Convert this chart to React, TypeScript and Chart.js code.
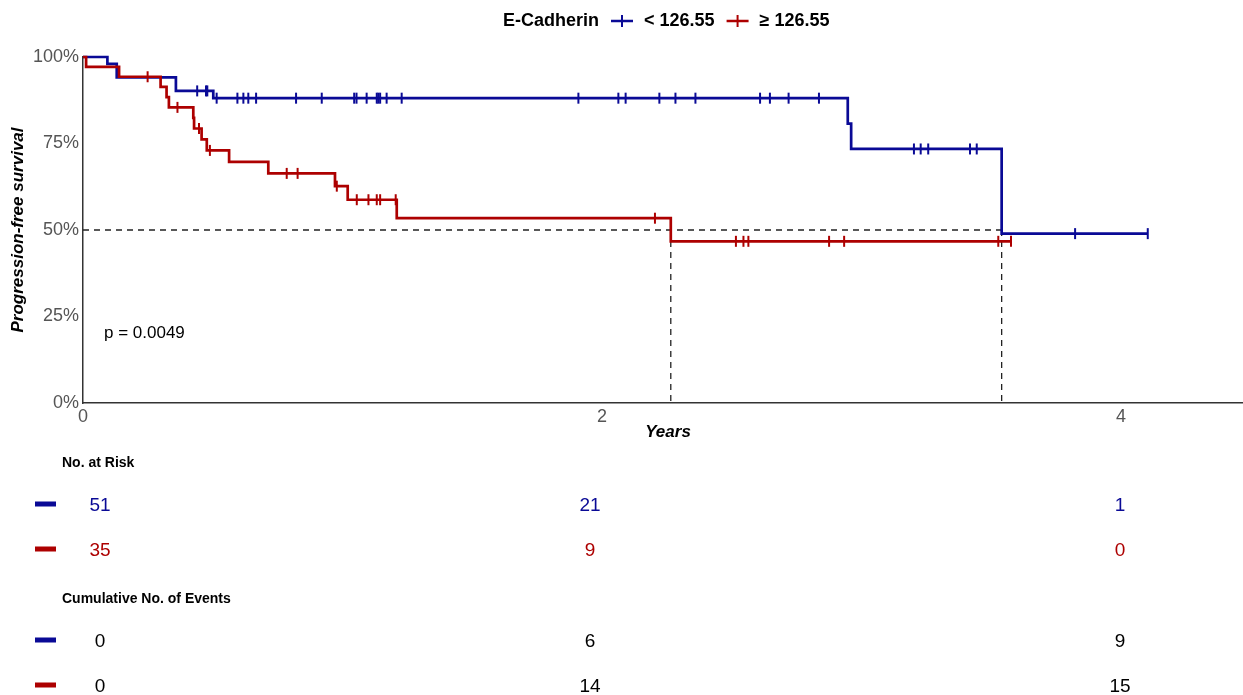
import React, { useEffect, useRef } from 'react';
import { Chart, registerables } from 'chart.js';

Chart.register(...registerables);

// ---------- data ----------
const legendTitle = 'E-Cadherin';
const groupLabels = ['< 126.55', '≥ 126.55'];
const groupColors = ['#0a0a96', '#ad0000'];

// Kaplan-Meier steps (time in years, survival in %)
const lowTimes = [0, 0.094, 0.13, 0.358, 0.502, 2.947, 2.96, 3.54, 4.103];
const lowSurv = [100, 98.04, 94.12, 90.2, 88.1, 80.76, 73.42, 48.95, 48.95];
const lowCensor = [
  0.44, 0.474, 0.479, 0.515, 0.595, 0.618, 0.637, 0.667, 0.821, 0.92, 1.045, 1.054,
  1.093, 1.132, 1.138, 1.145, 1.17, 1.228, 1.909, 2.063, 2.091, 2.221, 2.283, 2.36,
  2.609, 2.647, 2.719, 2.836, 3.202, 3.228, 3.257, 3.418, 3.444, 3.823, 4.103,
];

const highTimes = [0, 0.012, 0.139, 0.299, 0.322, 0.331, 0.425, 0.428, 0.457, 0.477, 0.563, 0.714, 0.971, 1.02, 1.209, 2.265, 3.576];
const highSurv = [100, 97.14, 94.29, 91.34, 88.39, 85.44, 82.39, 79.34, 76.17, 73.0, 69.68, 66.36, 62.67, 58.75, 53.41, 46.73, 46.73];
const highCensor = [
  0.249, 0.364, 0.447, 0.489, 0.785, 0.827, 0.978, 1.055, 1.1, 1.132, 1.145, 1.205,
  2.204, 2.516, 2.545, 2.564, 2.875, 2.933, 3.527, 3.576,
];

const medianTimes = [2.265, 3.54];
const medianLevel = 50;
const pValueText = 'p = 0.0049';

const xTickValues = [0, 2, 4];
const yTickValues = [0, 25, 50, 75, 100];

const tableTimes = [0, 2, 4];
const riskLow = [51, 21, 1];
const riskHigh = [35, 9, 0];
const eventsLow = [0, 6, 9];
const eventsHigh = [0, 14, 15];

// ---------- helpers ----------
const FONT = '"Liberation Sans", Arial, Helvetica, sans-serif';

function stepAt(times: number[], surv: number[], t: number): number {
  let v = surv[0];
  for (let i = 0; i < times.length; i++) if (times[i] <= t) v = surv[i];
  return v;
}

const toPts = (times: number[], surv: number[]) => times.map((t, i) => ({ x: t, y: surv[i] }));
const censorPts = (c: number[], times: number[], surv: number[]) =>
  c.map((t) => ({ x: t, y: stepAt(times, surv, t) }));

const overlayPlugin = {
  id: 'overlay',
  afterDraw(chart: any) {
    const ctx: CanvasRenderingContext2D = chart.ctx;
    const area = chart.chartArea;
    ctx.save();

    // legend
    ctx.textBaseline = 'middle';
    ctx.textAlign = 'left';
    ctx.fillStyle = '#000';
    ctx.font = `bold 18px ${FONT}`;
    let lx = 503;
    const ly = 21;
    ctx.fillText(legendTitle, lx, ly);
    lx += ctx.measureText(legendTitle).width + 12;
    groupLabels.forEach((lab, i) => {
      ctx.strokeStyle = groupColors[i];
      ctx.lineWidth = 2.5;
      ctx.beginPath();
      ctx.moveTo(lx, ly);
      ctx.lineTo(lx + 22, ly);
      ctx.stroke();
      ctx.lineWidth = 2;
      ctx.beginPath();
      ctx.moveTo(lx + 11, ly - 6);
      ctx.lineTo(lx + 11, ly + 6);
      ctx.stroke();
      lx += 22 + 11;
      ctx.fillStyle = '#000';
      ctx.fillText(lab, lx, ly);
      lx += ctx.measureText(lab).width + 12;
    });

    // p-value
    ctx.font = `17px ${FONT}`;
    ctx.fillText(pValueText, 104, 333);

    // axis titles
    ctx.font = `italic bold 17px ${FONT}`;
    ctx.textAlign = 'center';
    ctx.fillText('Years', (area.left + area.right) / 2 + 5, 432);
    ctx.save();
    ctx.translate(18, (area.top + area.bottom) / 2);
    ctx.rotate(-Math.PI / 2);
    ctx.fillText('Progression-free survival', 0, 0);
    ctx.restore();

    // tables
    const colX = [100, 590, 1120];
    const drawHeader = (txt: string, y: number) => {
      ctx.font = `bold 14px ${FONT}`;
      ctx.textAlign = 'left';
      ctx.fillStyle = '#000';
      ctx.fillText(txt, 62, y);
    };
    const drawRow = (vals: number[], y: number, barColor: string, textColor: string) => {
      ctx.fillStyle = barColor;
      ctx.fillRect(35, y - 4.5, 21, 5);
      ctx.font = `19px ${FONT}`;
      ctx.textAlign = 'center';
      ctx.fillStyle = textColor;
      vals.forEach((v, i) => {
        if (i < tableTimes.length) ctx.fillText(String(v), colX[i], y);
      });
    };
    drawHeader('No. at Risk', 463);
    drawRow(riskLow, 506, groupColors[0], groupColors[0]);
    drawRow(riskHigh, 551, groupColors[1], groupColors[1]);
    drawHeader('Cumulative No. of Events', 599);
    drawRow(eventsLow, 642, groupColors[0], '#000');
    drawRow(eventsHigh, 687, groupColors[1], '#000');

    ctx.restore();
  },
};

export default function App() {
  const ref = useRef<HTMLCanvasElement | null>(null);

  useEffect(() => {
    document.body.style.margin = '0';
    const canvas = ref.current;
    if (!canvas) return;

    const dashed = {
      borderColor: '#222',
      borderWidth: 1.3,
      borderDash: [6, 5],
      pointRadius: 0,
      fill: false,
      clip: false as any,
    };

    const chart = new Chart(canvas, {
      type: 'line',
      data: {
        datasets: [
          {
            data: censorPts(highCensor, highTimes, highSurv),
            showLine: false,
            pointStyle: 'line',
            rotation: 90,
            pointRadius: 5.5,
            pointBorderWidth: 2,
            pointBorderColor: groupColors[1],
            pointBackgroundColor: groupColors[1],
            clip: false as any,
          } as any,
          {
            data: censorPts(lowCensor, lowTimes, lowSurv),
            showLine: false,
            pointStyle: 'line',
            rotation: 90,
            pointRadius: 5.5,
            pointBorderWidth: 2,
            pointBorderColor: groupColors[0],
            pointBackgroundColor: groupColors[0],
            clip: false as any,
          } as any,
          {
            data: toPts(highTimes, highSurv),
            stepped: 'before',
            borderColor: groupColors[1],
            borderWidth: 2.7,
            pointRadius: 0,
            fill: false,
            clip: false as any,
          } as any,
          {
            data: toPts(lowTimes, lowSurv),
            stepped: 'before',
            borderColor: groupColors[0],
            borderWidth: 2.7,
            pointRadius: 0,
            fill: false,
            clip: false as any,
          } as any,
          { ...dashed, data: [{ x: 0, y: medianLevel }, { x: Math.max(...medianTimes), y: medianLevel }] } as any,
          ...medianTimes.map(
            (t) => ({ ...dashed, data: [{ x: t, y: medianLevel }, { x: t, y: 0 }] } as any)
          ),
        ],
      },
      options: {
        animation: false,
        responsive: false,
        maintainAspectRatio: false,
        events: [],
        layout: { autoPadding: false, padding: { top: 57, bottom: 262, left: 0, right: 0 } },
        plugins: { legend: { display: false }, tooltip: { enabled: false } },
        scales: {
          x: {
            type: 'linear',
            min: 0,
            max: 4.47,
            afterBuildTicks: (s: any) => {
              s.ticks = xTickValues.map((v) => ({ value: v }));
            },
            afterFit: (s: any) => {
              s.height = 30;
            },
            grid: { display: false, drawTicks: false },
            border: { display: true, color: '#333', width: 1.5 },
            ticks: {
              padding: 3,
              color: '#555',
              autoSkip: false,
              maxRotation: 0,
              font: { size: 18, family: FONT },
              callback: (v: any) => String(v),
            },
          },
          y: {
            type: 'linear',
            min: 0,
            max: 100,
            afterBuildTicks: (s: any) => {
              s.ticks = yTickValues.map((v) => ({ value: v }));
            },
            afterFit: (s: any) => {
              s.width = 83;
            },
            grid: { display: false, drawTicks: false },
            border: { display: true, color: '#333', width: 1.5 },
            ticks: {
              padding: 4,
              color: '#555',
              font: { size: 18, family: FONT },
              callback: (v: any) => `${v}%`,
            },
          },
        },
      } as any,
      plugins: [overlayPlugin],
    });

    return () => chart.destroy();
  }, []);

  return (
    <div style={{ width: 1243, height: 695, background: '#fff' }}>
      <canvas ref={ref} width={1243} height={695} style={{ display: 'block' }} />
    </div>
  );
}
